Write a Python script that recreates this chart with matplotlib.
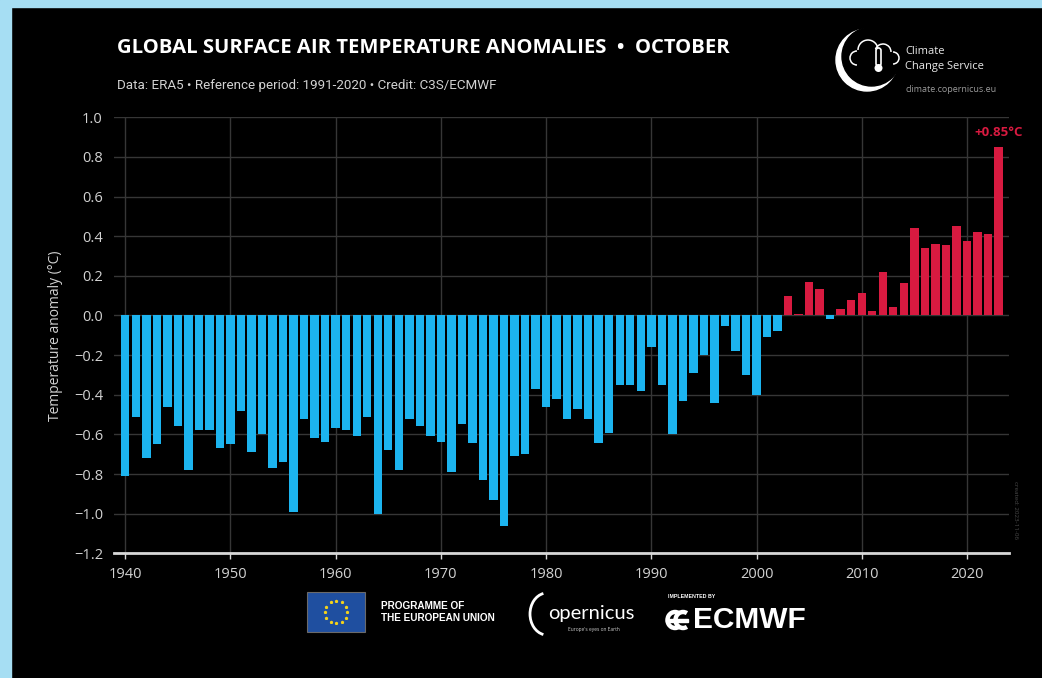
import numpy as np
import matplotlib
matplotlib.use("Agg")
import matplotlib.pyplot as plt
from matplotlib.patches import Rectangle, Arc, Circle, FancyBboxPatch

# October global surface air temperature anomalies (ERA5, vs 1991-2020)
years = list(range(1940, 2024))
anomalies = [
    -0.81, -0.51, -0.72, -0.65, -0.46, -0.56, -0.78, -0.58, -0.58, -0.67,  # 1940s
    -0.65, -0.48, -0.69, -0.60, -0.77, -0.74, -0.99, -0.52, -0.62, -0.64,  # 1950s
    -0.57, -0.58, -0.61, -0.51, -1.00, -0.68, -0.78, -0.52, -0.56, -0.61,  # 1960s
    -0.64, -0.79, -0.55, -0.645, -0.83, -0.93, -1.06, -0.71, -0.70, -0.37,  # 1970s
    -0.46, -0.42, -0.52, -0.47, -0.52, -0.645, -0.595, -0.35, -0.35, -0.38,  # 1980s
    -0.16, -0.35, -0.60, -0.43, -0.29, -0.20, -0.44, -0.055, -0.18, -0.30,  # 1990s
    -0.40, -0.11, -0.08, 0.10, 0.005, 0.17, 0.135, -0.017, 0.035, 0.08,  # 2000s
    0.115, 0.025, 0.22, 0.045, 0.165, 0.44, 0.34, 0.36, 0.355, 0.45,  # 2010s
    0.375, 0.42, 0.41, 0.85,  # 2020s
]
yticks = [-1.2, -1.0, -0.8, -0.6, -0.4, -0.2, 0.0, 0.2, 0.4, 0.6, 0.8, 1.0]
xticks = [1940, 1950, 1960, 1970, 1980, 1990, 2000, 2010, 2020]

BLUE = '#1cb4ef'
RED = '#d81a40'
FRAME = '#a6def3'
TXT = '#d2d2d2'
W, H = 1042, 678

plt.rcParams['font.family'] = ['Open Sans', 'DejaVu Sans']

fig = plt.figure(figsize=(W / 100, H / 100), dpi=100, facecolor='black')

# background layer in pixel coordinates: frame + logos
bg = fig.add_axes([0, 0, 1, 1])
bg.set_xlim(0, W)
bg.set_ylim(H, 0)
bg.axis('off')
bg.add_patch(Rectangle((0, 0), 11, H, color=FRAME))
bg.add_patch(Rectangle((0, 0), W, 7, color=FRAME))

# main chart
ax = fig.add_axes([114 / W, 1 - 553.3 / H, (1009 - 114) / W, (553.3 - 117.3) / H])
ax.set_facecolor('black')
colors = [RED if v > 0 else BLUE for v in anomalies]
ax.bar(years, anomalies, width=0.8, color=colors, zorder=3)
ax.set_xlim(1938.93, 2024.0)
ax.set_ylim(-1.2, 1.0)
ax.set_yticks(yticks)
ax.set_yticklabels([f'{v:.1f}'.replace('-', '\u2212') if v != 0 else '0.0' for v in yticks])
ax.set_xticks(xticks)
ax.grid(color='#363636', lw=1, zorder=0)
ax.set_axisbelow(True)
for s in ['left', 'top', 'right']:
    ax.spines[s].set_visible(False)
ax.spines['bottom'].set_color('#d8d8d8')
ax.spines['bottom'].set_linewidth(2)
ax.spines['bottom'].set_zorder(5)
ax.tick_params(axis='y', length=0, pad=8, labelcolor=TXT, labelsize=10.5)
ax.tick_params(axis='x', length=4, width=1, color='#d8d8d8', pad=6, labelcolor=TXT, labelsize=10.5)
ax.set_ylabel('Temperature anomaly (°C)', color=TXT, fontsize=10)
ax.yaxis.set_label_coords(-0.057, 0.5)

ax.annotate(f'+{anomalies[-1]:.2f}°C', xy=(years[-1], anomalies[-1]), xytext=(0, 6),
            textcoords='offset points', ha='center', va='bottom',
            color=RED, fontweight='bold', fontsize=9.5, annotation_clip=False)

ax.text(1.004, 0.1, 'created: 2023-11-06', transform=ax.transAxes, rotation=270,
        color='#4a4a4a', fontsize=4.5, ha='left', va='center')

# titles
fig.text(117 / W, 1 - 48 / H, 'GLOBAL SURFACE AIR TEMPERATURE ANOMALIES  \u2022  OCTOBER',
         color='white', fontsize=14.6, fontweight='bold', va='center')
fig.text(117 / W, 1 - 85 / H, 'Data: ERA5 \u2022 Reference period: 1991-2020 \u2022 Credit: C3S/ECMWF',
         color=TXT, fontsize=9.6, va='center', family=['Roboto', 'DejaVu Sans'])

# Climate Change Service logo (rough)
bg.add_patch(Circle((867, 60), 31, color='white', zorder=2))
bg.add_patch(Circle((871.5, 56.5), 29.5, color='black', zorder=3))
for cx, cy, r, t1, t2 in [(857, 58, 7, 90, 270), (868, 50, 10, 180, 360), (883, 52, 8, 200, 360), (893, 58, 6, 270, 90)]:
    bg.add_patch(Arc((cx, cy), 2 * r, 2 * r, theta1=t1, theta2=t2, color='white', lw=1.1, zorder=4))
bg.add_patch(FancyBboxPatch((876, 48), 5, 18, boxstyle='round,pad=0,rounding_size=2.5',
                            fc='black', ec='white', lw=1.2, zorder=5))
bg.add_patch(Circle((878.5, 68), 4, fc='white', zorder=6))
bg.text(905, 52, 'Climate', color='#e8e8e8', fontsize=8, va='center')
bg.text(905, 66, 'Change Service', color='#e8e8e8', fontsize=8, va='center')
bg.text(905, 90, 'climate.copernicus.eu', color='#9a9a9a', fontsize=6.5, va='center')

# EU flag
bg.add_patch(Rectangle((307, 592), 58, 40, fc='#1f4fa0', ec='#6a6a6a', lw=0.8))
ang = np.linspace(0, 2 * np.pi, 13)[:-1]
bg.scatter(336 + 11 * np.cos(ang), 612 + 11 * np.sin(ang), s=2.5, c='#f3d21c', marker='*', zorder=3)
bg.text(381, 612, 'PROGRAMME OF\nTHE EUROPEAN UNION', color='white', fontsize=7.2,
        fontweight='bold', va='center', family=['Liberation Sans', 'DejaVu Sans'], linespacing=1.15)

# Copernicus
bg.add_patch(Arc((547, 614), 34, 42, theta1=100, theta2=260, color='white', lw=2, zorder=3))
bg.text(548, 613, 'opernicus', color='white', fontsize=14.5, va='center', family=['Lato', 'DejaVu Sans'])
bg.text(594, 629, "Europe's eyes on Earth", color='#cfcfcf', fontsize=3.5, va='center', ha='center')

# ECMWF
bg.text(668, 597, 'IMPLEMENTED BY', color='white', fontsize=3.8, fontweight='bold', va='center',
        family=['Liberation Sans', 'DejaVu Sans'])
bg.add_patch(Arc((675, 620), 15, 16, theta1=60, theta2=300, color='white', lw=3.2, zorder=3))
bg.add_patch(Arc((683, 620), 15, 16, theta1=60, theta2=300, color='white', lw=3.2, zorder=3))
bg.add_patch(Rectangle((666, 618.5), 22, 3, color='white', zorder=4))
bg.text(693, 620, 'ECMWF', color='white', fontsize=21.5, fontweight='bold', va='center',
        family=['Liberation Sans', 'DejaVu Sans'])

fig.savefig('out.png', dpi=100, facecolor='black')
